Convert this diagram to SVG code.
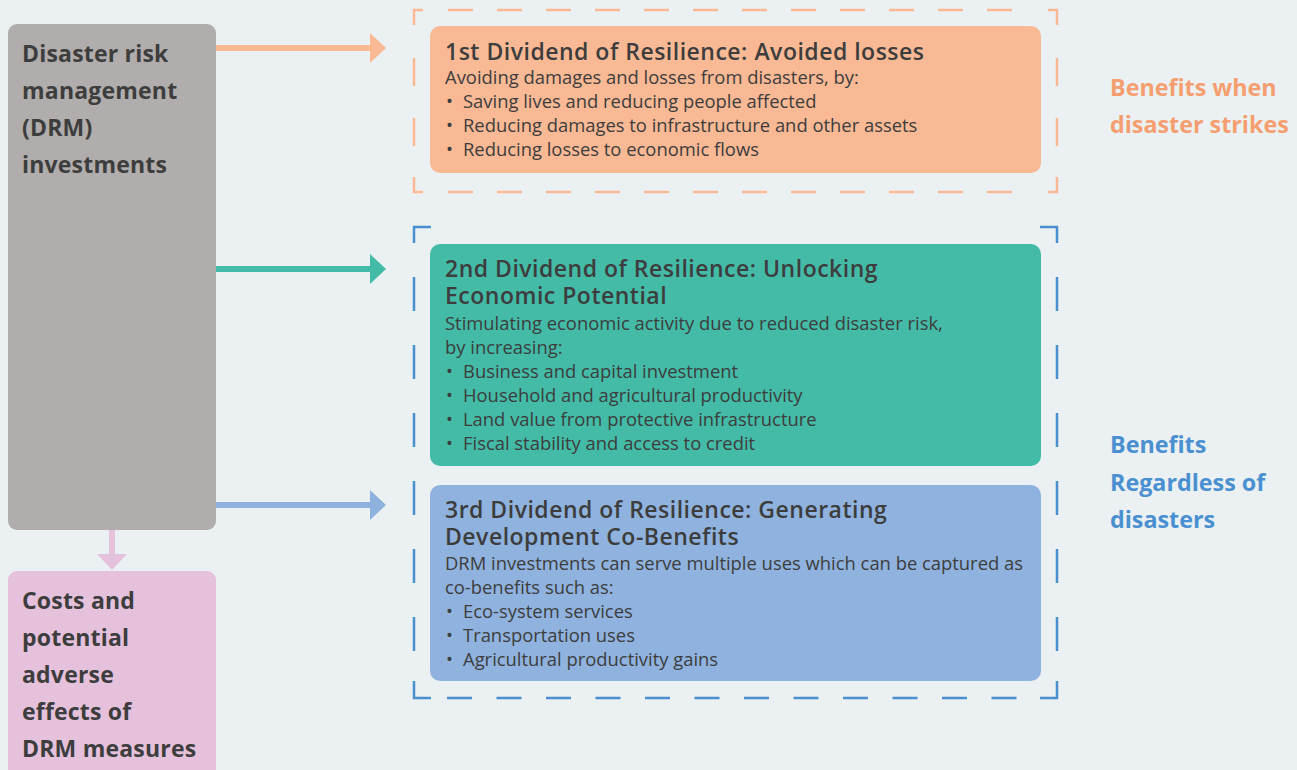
<svg xmlns="http://www.w3.org/2000/svg" width="1297" height="770" viewBox="0 0 1297 770">
<defs>
<style>
.lbl{font-family:"Open Sans","Noto Sans",sans-serif;font-weight:bold;font-size:23px;letter-spacing:0.2px;fill:#3d3d3d}
.ttl{font-family:"Open Sans","Noto Sans",sans-serif;font-weight:600;font-size:23px;letter-spacing:0.5px;fill:#3d3d3d}
.bd{font-family:"Open Sans","Noto Sans",sans-serif;font-size:18.4px;fill:#3d3d3d}
.side{font-family:"Open Sans","Noto Sans",sans-serif;font-weight:bold;font-size:23.3px}
.frame{fill:none;stroke-width:2.5;stroke-dasharray:25 24}
</style>
</defs>
<rect width="1297" height="770" fill="#ebf1f2"/>

<g id="frames">
<g stroke="#f8b994" class="frame">
<path d="M414,25 V10 H423" stroke-dasharray="none"/>
<path d="M1048,10 H1057 V25" stroke-dasharray="none"/>
<path d="M414,177 V192 H423" stroke-dasharray="none"/>
<path d="M1048,192 H1057 V177" stroke-dasharray="none"/>
<path d="M448,10 H1030" stroke-dasharray="25 24"/>
<path d="M448,192 H1030" stroke-dasharray="25 24"/>
<path d="M414,58 V150" stroke-dasharray="28 32"/>
<path d="M1057,58 V150" stroke-dasharray="28 32"/>
</g>
<g stroke="#4a90d0" class="frame">
<path d="M414,243 V227 H431" stroke-dasharray="none"/>
<path d="M1040,227 H1057 V243" stroke-dasharray="none"/>
<path d="M414,681 V698 H431" stroke-dasharray="none"/>
<path d="M1040,698 H1057 V681" stroke-dasharray="none"/>
<path d="M447,698 H1030" stroke-dasharray="25 24.5"/>
<path d="M414,277 V660" stroke-dasharray="34 34"/>
<path d="M1057,277 V660" stroke-dasharray="34 34"/>
</g>
</g>

<g id="connectors">
<path d="M216,48 H372" stroke="#f8b994" stroke-width="6"/>
<polygon points="370,33 386,48 370,63" fill="#f8b994"/>
<path d="M216,269 H372" stroke="#43bba6" stroke-width="6"/>
<polygon points="370,254 386,269 370,284" fill="#43bba6"/>
<path d="M216,505 H372" stroke="#8eb2dd" stroke-width="6"/>
<polygon points="370,490 386,505 370,520" fill="#8eb2dd"/>
<path d="M112,530 V555" stroke="#e5c1dc" stroke-width="6"/>
<polygon points="97,554 127,554 112,570" fill="#e5c1dc"/>
</g>

<g id="drm">
<rect x="8" y="24" width="208" height="506" rx="9" fill="#b0adac"/>
<text class="lbl" x="22" y="62">Disaster risk</text>
<text class="lbl" x="22" y="99">management</text>
<text class="lbl" x="22" y="136">(DRM)</text>
<text class="lbl" x="22" y="173">investments</text>
</g>

<g id="costs">
<rect x="8" y="571" width="208" height="220" rx="9" fill="#e5c1dc"/>
<text class="lbl" x="22" y="609">Costs and</text>
<text class="lbl" x="22" y="646">potential</text>
<text class="lbl" x="22" y="683">adverse</text>
<text class="lbl" x="22" y="720">effects of</text>
<text class="lbl" x="22" y="757">DRM measures</text>
</g>

<g id="dividend1">
<rect x="430" y="26" width="611" height="147" rx="10" fill="#f8b994"/>
<text class="ttl" x="445" y="60">1st Dividend of Resilience: Avoided losses</text>
<text class="bd" x="445" y="84">Avoiding damages and losses from disasters, by:</text>
<text class="bd" x="446" y="108">•</text><text class="bd" x="463" y="108">Saving lives and reducing people affected</text>
<text class="bd" x="446" y="132">•</text><text class="bd" x="463" y="132">Reducing damages to infrastructure and other assets</text>
<text class="bd" x="446" y="156">•</text><text class="bd" x="463" y="156">Reducing losses to economic flows</text>
</g>

<g id="dividend2">
<rect x="430" y="244" width="611" height="222" rx="10" fill="#43bba6"/>
<text class="ttl" x="445" y="277">2nd Dividend of Resilience: Unlocking</text>
<text class="ttl" x="445" y="304">Economic Potential</text>
<text class="bd" x="445" y="330">Stimulating economic activity due to reduced disaster risk,</text>
<text class="bd" x="445" y="354">by increasing:</text>
<text class="bd" x="446" y="378">•</text><text class="bd" x="463" y="378">Business and capital investment</text>
<text class="bd" x="446" y="402">•</text><text class="bd" x="463" y="402">Household and agricultural productivity</text>
<text class="bd" x="446" y="426">•</text><text class="bd" x="463" y="426">Land value from protective infrastructure</text>
<text class="bd" x="446" y="450">•</text><text class="bd" x="463" y="450">Fiscal stability and access to credit</text>
</g>

<g id="dividend3">
<rect x="430" y="485" width="611" height="196" rx="10" fill="#8fb3de"/>
<text class="ttl" x="445" y="518">3rd Dividend of Resilience: Generating</text>
<text class="ttl" x="445" y="545">Development Co-Benefits</text>
<text class="bd" x="445" y="570">DRM investments can serve multiple uses which can be captured as</text>
<text class="bd" x="445" y="594">co-benefits such as:</text>
<text class="bd" x="446" y="618">•</text><text class="bd" x="463" y="618">Eco-system services</text>
<text class="bd" x="446" y="642">•</text><text class="bd" x="463" y="642">Transportation uses</text>
<text class="bd" x="446" y="666">•</text><text class="bd" x="463" y="666">Agricultural productivity gains</text>
</g>

<g id="label-strikes">
<text class="side" x="1110" y="96" fill="#f59e70">Benefits when</text>
<text class="side" x="1110" y="133" fill="#f59e70">disaster strikes</text>
</g>
<g id="label-regardless">
<text class="side" x="1110" y="453" fill="#4a90d0">Benefits</text>
<text class="side" x="1110" y="491" fill="#4a90d0">Regardless of</text>
<text class="side" x="1110" y="528" fill="#4a90d0">disasters</text>
</g>
</svg>
